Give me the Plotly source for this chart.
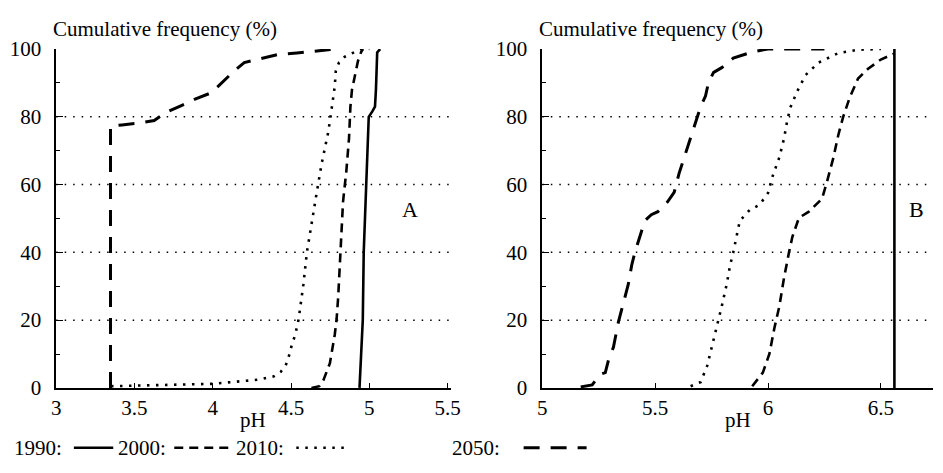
import plotly.graph_objects as go

# ---------------- data ----------------
# Panel A
A_1990_ph = [4.937, 4.958, 4.964, 4.979, 4.996, 5.019, 5.036, 5.042, 5.046, 5.050, 5.069]
A_1990_cf = [0, 20, 40, 60, 80, 81.6, 83, 88, 96, 99, 100]

A_2000_ph = [4.63, 4.68, 4.706, 4.748, 4.779, 4.791, 4.801, 4.816, 4.832, 4.853, 4.870, 4.879, 4.889, 4.927, 4.948, 4.96]
A_2000_cf = [0, 0.5, 2.2, 7.3, 15.7, 20.4, 26.9, 40, 55, 64, 73.6, 83, 88, 96.4, 99.2, 100]

A_2010_ph = [3.35, 3.61, 3.99, 4.117, 4.286, 4.39, 4.433, 4.464, 4.485, 4.506, 4.527, 4.548, 4.579, 4.601,
             4.622, 4.642, 4.664, 4.695, 4.716, 4.737, 4.752, 4.765, 4.779, 4.786, 4.806, 4.842, 4.895, 4.948, 5.0]
A_2010_cf = [0.5, 0.8, 1.2, 1.7, 2.4, 3.4, 4.7, 6.4, 9.2, 12.9, 15.7, 20.2, 30.6, 40,
             45.5, 51.1, 57.7, 66.1, 70.8, 75.4, 80, 84.3, 89, 93.6, 96, 97.7, 98.8, 100, 100]

A_2050_ph = [3.347, 3.347, 3.42, 3.502, 3.626, 3.698, 3.803, 3.887, 3.991, 4.054, 4.138, 4.201, 4.327, 4.411, 4.537, 4.72, 4.78]
A_2050_cf = [0, 77.3, 77.6, 78, 78.9, 81.2, 83.4, 85.2, 87.1, 89.9, 93.6, 96, 97.4, 98.3, 98.8, 99.6, 100]

# Panel B
B_1990_ph = [6.56, 6.56]
B_1990_cf = [0, 100]

B_2000_ph = [5.93, 5.977, 6.006, 6.028, 6.05, 6.071, 6.093, 6.108, 6.137, 6.181, 6.239, 6.26, 6.29, 6.311, 6.333,
             6.362, 6.399, 6.442, 6.5, 6.558]
B_2000_cf = [0.5, 4.5, 10, 17.6, 24, 32.5, 40, 44.6, 50.2, 52, 55.8, 60.5, 68, 74.5, 80, 85.7, 91.3, 94.1, 96.9, 98.6]

B_2010_ph = [5.657, 5.701, 5.73, 5.751, 5.773, 5.795, 5.817, 5.832, 5.846, 5.86, 5.875, 5.919, 5.962, 6.0, 6.02,
             6.05, 6.071, 6.086, 6.1, 6.13, 6.166, 6.224, 6.311, 6.4, 6.5]
B_2010_cf = [0.5, 1.7, 6.4, 12, 17.6, 24.1, 30.6, 36.2, 40, 44.6, 49.3, 52.5, 54, 57.5, 62.4,
             68, 73.6, 79.2, 82.9, 87.6, 92.3, 96, 98.8, 99.8, 100]

B_2050_ph = [5.17, 5.221, 5.257, 5.279, 5.293, 5.315, 5.337, 5.359, 5.381, 5.396, 5.41, 5.432, 5.454, 5.483,
             5.512, 5.555, 5.584, 5.606, 5.628, 5.657, 5.679, 5.701, 5.723, 5.737, 5.759, 5.795, 5.846, 5.933,
             6.0, 6.25]
B_2050_cf = [0.3, 0.9, 4, 4.5, 8.2, 12, 19.4, 25, 30.6, 36.2, 40, 44.6, 49.3, 51.1, 52, 54.9, 57.7, 63.3, 68,
             73.6, 78.2, 82.9, 86.1, 90.3, 93.1, 94.5, 97.3, 99.2, 100, 100]

YEARS = ["1990", "2000", "2010", "2050"]
Y_TICKS = [0, 20, 40, 60, 80, 100]
GRID = [20, 40, 60, 80]
A_XTICKS = [3, 3.5, 4, 4.5, 5, 5.5]
B_XTICKS = [5, 5.5, 6, 6.5]
Y_TITLE = "Cumulative frequency (%)"
X_TITLE = "pH"

# ---------------- styles ----------------
W, H = 943, 473
FONT = "Liberation Serif, Times New Roman, serif"
FS = 21
STYLE = {
    "1990": dict(color="black", width=2.6, dash="solid"),
    "2000": dict(color="black", width=2.6, dash="9px,6px"),
    "2010": dict(color="black", width=2.6, dash="2.5px,6.5px"),
    "2050": dict(color="black", width=3.0, dash="16px,11px"),
}
# legend layout: (text left x, line x0, line x1) in pixels
LEG_POS = {
    "1990": (8, 70, 110),
    "2000": (114, 172, 230),
    "2010": (234, 296, 350),
    "2050": (453, 527, 591),
}
LEG_Y = 459
XTITLE_Y = 430


def px(x):
    return x / W


def py(y):
    return 1 - y / H


fig = go.Figure()

panels = [
    ("x", "y", {"1990": (A_1990_ph, A_1990_cf), "2000": (A_2000_ph, A_2000_cf),
                "2010": (A_2010_ph, A_2010_cf), "2050": (A_2050_ph, A_2050_cf)}),
    ("x2", "y2", {"1990": (B_1990_ph, B_1990_cf), "2000": (B_2000_ph, B_2000_cf),
                  "2010": (B_2010_ph, B_2010_cf), "2050": (B_2050_ph, B_2050_cf)}),
]
for xa, ya, series in panels:
    for yr in YEARS:
        xs, ys = series[yr]
        fig.add_trace(go.Scatter(x=xs, y=ys, xaxis=xa, yaxis=ya, mode="lines",
                                 line=STYLE[yr], showlegend=False, hoverinfo="skip"))

ydom = [py(396), py(39)]
common_axis = dict(showline=True, linecolor="black", linewidth=1.5, showgrid=False, zeroline=False,
                   ticks="inside", tickcolor="black", tickwidth=1.3,
                   tickfont=dict(family=FONT, size=FS, color="black"))

fig.update_layout(
    width=W, height=H, margin=dict(l=0, r=0, t=0, b=0),
    paper_bgcolor="white", plot_bgcolor="white", showlegend=False,
    xaxis=dict(domain=[px(52), px(453)], range=[3, 5.52], tickvals=A_XTICKS,
               ticktext=[f"{v:g}" for v in A_XTICKS], ticklen=5, anchor="y",
               **common_axis),
    yaxis=dict(domain=ydom, range=[0, 100], tickvals=Y_TICKS, ticklen=7, anchor="x",
               ticklabelstandoff=9,
               minor=dict(tickvals=[10, 30, 50, 70, 90], ticks="inside", ticklen=4, tickcolor="black"),
               **common_axis),
    xaxis2=dict(domain=[px(546), 1.0], range=[5, 6.731], tickvals=B_XTICKS,
                ticktext=[f"{v:g}" for v in B_XTICKS], ticklen=5, anchor="y2",
                **common_axis),
    yaxis2=dict(domain=ydom, range=[0, 100], tickvals=Y_TICKS, ticklen=7, anchor="x2",
                ticklabelstandoff=9,
                minor=dict(tickvals=[10, 30, 50, 70, 90], ticks="inside", ticklen=4, tickcolor="black"),
                **common_axis),
)

# dotted horizontal grid lines
for xd, ya in [("x domain", "y"), ("x2 domain", "y2")]:
    for g in GRID:
        fig.add_shape(type="line", xref=xd, yref=ya, x0=0, x1=1, y0=g, y1=g,
                      line=dict(color="black", width=1.5, dash="1.5px,7px"), layer="below")

# panel titles and x-axis titles
for xd in ["x domain", "x2 domain"]:
    fig.add_annotation(text=Y_TITLE, xref=xd, yref="paper", x=0, y=py(33),
                       xanchor="left", yanchor="bottom", showarrow=False, xshift=-5,
                       font=dict(family=FONT, size=FS, color="black"))
    fig.add_annotation(text=X_TITLE, xref=xd, yref="paper", x=0.5, y=py(XTITLE_Y),
                       xanchor="center", yanchor="middle", showarrow=False, borderpad=0,
                       font=dict(family=FONT, size=FS, color="black"))

# panel letters
fig.add_annotation(text="A", xref="x", yref="y", x=5.26, y=52.5, showarrow=False,
                   font=dict(family=FONT, size=FS + 1, color="black"))
fig.add_annotation(text="B", xref="x2", yref="y2", x=6.66, y=52.5, showarrow=False,
                   font=dict(family=FONT, size=FS + 1, color="black"))

# legend (text + line samples) along the bottom
for yr in YEARS:
    tx, lx0, lx1 = LEG_POS[yr]
    fig.add_annotation(text=yr + ":", xref="paper", yref="paper", x=px(tx), y=py(LEG_Y),
                       xanchor="left", yanchor="middle", showarrow=False, borderpad=0,
                       font=dict(family=FONT, size=FS, color="black"))
    fig.add_shape(type="line", xref="paper", yref="paper", x0=px(lx0), x1=px(lx1),
                  y0=py(LEG_Y), y1=py(LEG_Y), line=STYLE[yr])

fig.write_html("out.html")
